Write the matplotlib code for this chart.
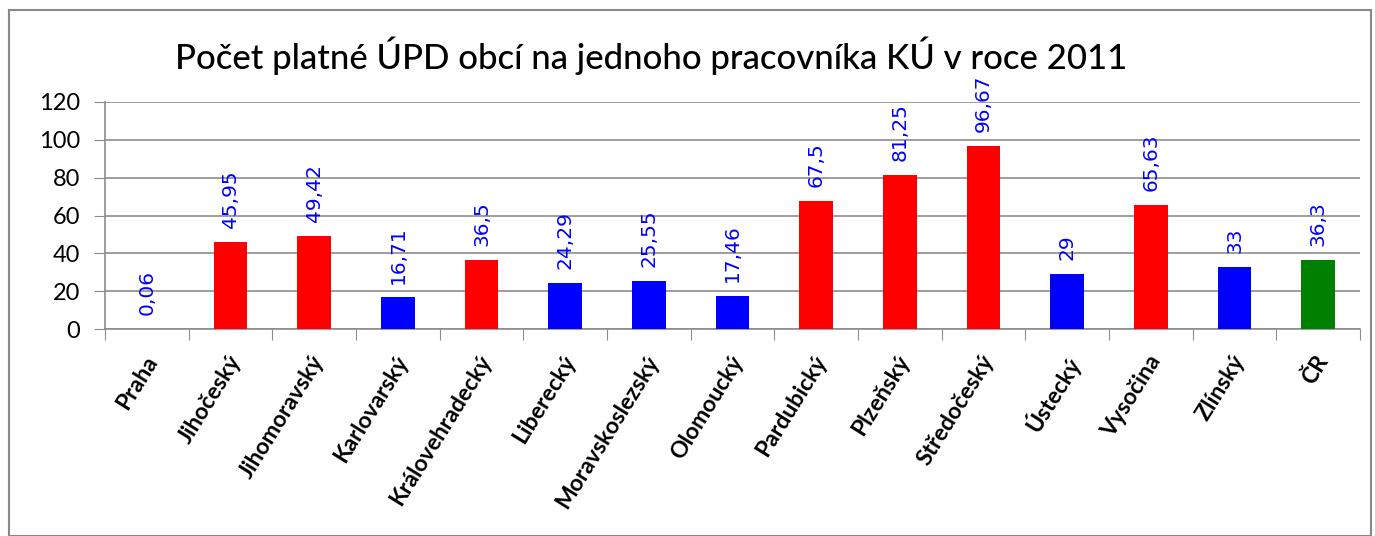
import matplotlib
matplotlib.use("Agg")
import matplotlib.pyplot as plt
from matplotlib.patches import Rectangle

# data
regions = ["Praha", "Jihočeský", "Jihomoravský", "Karlovarský", "Královehradecký",
           "Liberecký", "Moravskoslezský", "Olomoucký", "Pardubický", "Plzeňský",
           "Středočeský", "Ústecký", "Vysočina", "Zlínský", "ČR"]
values = [0.06, 45.95, 49.42, 16.71, 36.5, 24.29, 25.55, 17.46, 67.5, 81.25,
          96.67, 29, 65.63, 33, 36.3]
value_labels = ["0,06", "45,95", "49,42", "16,71", "36,5", "24,29", "25,55", "17,46",
                "67,5", "81,25", "96,67", "29", "65,63", "33", "36,3"]
bar_colors = ["#0000FF", "#FF0000", "#FF0000", "#0000FF", "#FF0000", "#0000FF",
              "#0000FF", "#0000FF", "#FF0000", "#FF0000", "#FF0000", "#0000FF",
              "#FF0000", "#0000FF", "#008000"]
yticks = [0, 20, 40, 60, 80, 100, 120]
title = "Počet platné ÚPD obcí na jednoho pracovníka KÚ v roce 2011"

fig = plt.figure(figsize=(13.75, 5.36), dpi=100)
ax = fig.add_axes([105/1375, 1-329/536, (1360-105)/1375, (329-102)/536])

x = list(range(len(regions)))
ax.bar(x, values, width=0.4, color=bar_colors, zorder=3)

for xi, v, lab in zip(x, values, value_labels):
    ax.annotate(lab, (xi, v), xytext=(0, 10), textcoords="offset points",
                rotation=90, ha="center", va="bottom", color="#0000FF",
                fontsize=14.5, fontfamily="DejaVu Sans")

ax.set_xlim(-0.5, len(regions) - 0.5)
ax.set_ylim(0, 120)
ax.set_yticks(yticks)
ax.set_yticklabels([str(t) for t in yticks], fontsize=17, fontfamily="Lato")
ax.grid(axis="y", color="#8c8c8c", linewidth=1.2, zorder=0)
ax.tick_params(axis="y", length=8, color="#8c8c8c", pad=10)

# category boundary ticks like excel
ax.set_xticks([i - 0.5 for i in range(len(regions) + 1)])
ax.set_xticklabels([])
ax.tick_params(axis="x", length=8, color="#8c8c8c", direction="out")
for xi, name in zip(x, regions):
    ax.text(xi - 0.04, -12, name, rotation=58, ha="right", va="top",
            rotation_mode="anchor", fontsize=16.5, fontweight="bold",
            fontfamily="Lato", transform=ax.transData, clip_on=False)

for s in ["top", "right"]:
    ax.spines[s].set_visible(False)
ax.spines["left"].set_color("#8c8c8c")
ax.spines["bottom"].set_color("#8c8c8c")
ax.spines["left"].set_linewidth(1.2)
ax.spines["bottom"].set_linewidth(1.2)

fig.text(651/1375, 1-56/536, title, ha="center", va="center", fontsize=25,
         fontfamily="Lato", fontweight="medium")

# outer chart border
fig.patches.append(Rectangle((9/1375, 0), (1371-9)/1375, 1-10/536,
                             transform=fig.transFigure, fill=False,
                             edgecolor="#888888", linewidth=1.5))

fig.savefig("out.png", dpi=100)
